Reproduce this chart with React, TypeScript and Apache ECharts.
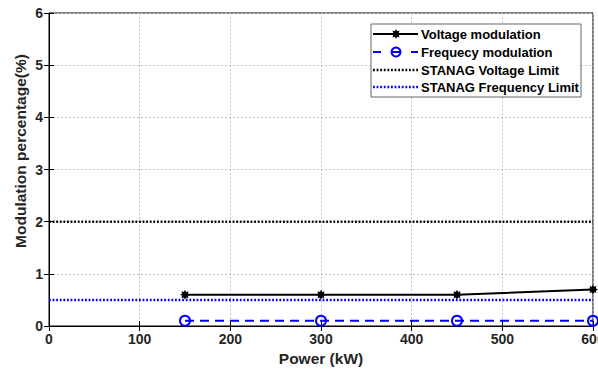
import React, { useEffect, useRef } from "react";
import * as echarts from "echarts";

const powerKW = [150, 300, 450, 600];
const voltageModulation = [0.6, 0.6, 0.6, 0.7];
const frequencyModulation = [0.1, 0.1, 0.1, 0.1];
const limitX = [0, 600];
const stanagVoltageLimit = 2;
const stanagFrequencyLimit = 0.5;

const seriesNames = [
  "Voltage modulation",
  "Frequecy modulation",
  "STANAG Voltage Limit",
  "STANAG Frequency Limit",
];
const xTitle = "Power (kW)";
const yTitle = "Modulation percentage(%)";

const FONT = "Liberation Sans, Arial, sans-serif";
// asterisk-like star, unit radius 10
const starPts: number[][] = [];
for (let i = 0; i < 16; i++) {
  const a = (i * Math.PI) / 8 - Math.PI / 2;
  const r = i % 2 === 0 ? 10 : 6;
  starPts.push([r * Math.cos(a), r * Math.sin(a)]);
}
const asterisk =
  "path://M" + starPts.map((p) => p[0].toFixed(2) + "," + p[1].toFixed(2)).join(" L") + " Z";

export default function App() {
  const ref = useRef<HTMLDivElement>(null);
  useEffect(() => {
    if (!ref.current) return;
    const chart = echarts.init(ref.current, undefined, { renderer: "svg" });
    const axisCommon = {
      min: 0,
      axisLine: { show: true, lineStyle: { color: "#000", width: 1 } },
      axisTick: { show: true, inside: true, length: 5, lineStyle: { color: "#000" } },
      axisLabel: { color: "#262626", fontFamily: FONT, fontWeight: "bold", fontSize: 14, margin: 6 },
      nameTextStyle: { color: "#262626", fontFamily: FONT, fontWeight: "bold", fontSize: 15.5 },
      splitLine: { show: true, lineStyle: { color: "#c4c4c4", type: [2, 2], width: 1 } },
    };

    // legend drawn as graphic
    const lx0 = 373;
    const lx1 = 418;
    const lcx = 396;
    const rows = [34, 52, 70, 87];
    const textX = 421;
    const legendGraphic: any[] = [
      {
        type: "text",
        x: 20,
        y: 151,
        rotation: Math.PI / 2,
        style: {
          text: yTitle,
          fill: "#262626",
          font: "bold 15.5px " + FONT,
          align: "center",
          verticalAlign: "middle",
        },
      },
      {
        type: "rect",
        shape: { x: 371, y: 24, width: 210, height: 73 },
        style: { fill: "#fff", stroke: "#666", lineWidth: 1 },
        z: 100,
      },
      {
        type: "line",
        shape: { x1: lx0, y1: rows[0], x2: lx1, y2: rows[0] },
        style: { stroke: "#000", lineWidth: 2 },
        z: 101,
      },
      {
        type: "polygon",
        shape: { points: starPts.map((p) => [lcx + p[0] * 0.5, rows[0] + p[1] * 0.5]) },
        style: { fill: "#000" },
        z: 102,
      },
      {
        type: "line",
        shape: { x1: lx0, y1: rows[1], x2: lx1, y2: rows[1] },
        style: { stroke: "#0000ff", lineWidth: 2, lineDash: [8, 11] },
        z: 101,
      },
      {
        type: "circle",
        shape: { cx: lcx, cy: rows[1], r: 4.5 },
        style: { fill: "none", stroke: "#0000ff", lineWidth: 2 },
        z: 102,
      },
      {
        type: "line",
        shape: { x1: lx0, y1: rows[2], x2: lx1, y2: rows[2] },
        style: { stroke: "#000", lineWidth: 2.5, lineDash: [1.8, 1.8] },
        z: 101,
      },
      {
        type: "line",
        shape: { x1: lx0, y1: rows[3], x2: lx1, y2: rows[3] },
        style: { stroke: "#0000ff", lineWidth: 2.5, lineDash: [1.8, 1.8] },
        z: 101,
      },
    ];
    seriesNames.forEach((n, i) => {
      legendGraphic.push({
        type: "text",
        x: textX,
        y: rows[i],
        style: {
          text: n,
          fill: "#000",
          font: "bold 13px " + FONT,
          verticalAlign: "middle",
        },
        z: 102,
      });
    });

    chart.setOption({
      animation: false,
      backgroundColor: "#fff",
      grid: {
        left: 49,
        right: 5,
        top: 13,
        bottom: 48,
        show: true,
        borderColor: "#000",
        borderWidth: 1,
        outerBoundsMode: "none",
      },
      graphic: legendGraphic,
      xAxis: [
        {
          ...axisCommon,
          type: "value",
          max: 600,
          interval: 100,
          name: xTitle,
          nameLocation: "middle",
          nameGap: 22,
        },
        {
          ...axisCommon,
          type: "value",
          position: "top",
          max: 600,
          interval: 100,
          axisLabel: { show: false },
          splitLine: { show: false },
        },
      ],
      yAxis: [
        {
          ...axisCommon,
          type: "value",
          max: 6,
          interval: 1,
        },
        {
          ...axisCommon,
          type: "value",
          position: "right",
          max: 6,
          interval: 1,
          axisLabel: { show: false },
          splitLine: { show: false },
        },
      ],
      series: [
        {
          name: seriesNames[2],
          type: "line",
          data: limitX.map((x) => [x, stanagVoltageLimit]),
          showSymbol: false,
          symbol: "none",
          lineStyle: { color: "#000", width: 2.5, type: [1.8, 1.8] },
        },
        {
          name: seriesNames[3],
          type: "line",
          data: limitX.map((x) => [x, stanagFrequencyLimit]),
          showSymbol: false,
          symbol: "none",
          lineStyle: { color: "#0000ff", width: 2.5, type: [1.8, 1.8] },
        },
        {
          name: seriesNames[0],
          type: "line",
          data: powerKW.map((x, i) => [x, voltageModulation[i]]),
          symbol: asterisk,
          symbolSize: 10,
          itemStyle: { color: "#000" },
          lineStyle: { color: "#000", width: 2 },
          z: 5,
        },
        {
          name: seriesNames[1],
          type: "line",
          data: powerKW.map((x, i) => [x, frequencyModulation[i]]),
          symbol: "circle",
          symbolSize: 10,
          itemStyle: { color: "none", borderColor: "#0000ff", borderWidth: 2 },
          lineStyle: { color: "#0000ff", width: 2, type: [9, 6] },
          z: 5,
        },
      ],
    });
    return () => chart.dispose();
  }, []);
  return (
    <div
      ref={ref}
      style={{ position: "fixed", left: 0, top: 0, width: 598, height: 374 }}
    />
  );
}
